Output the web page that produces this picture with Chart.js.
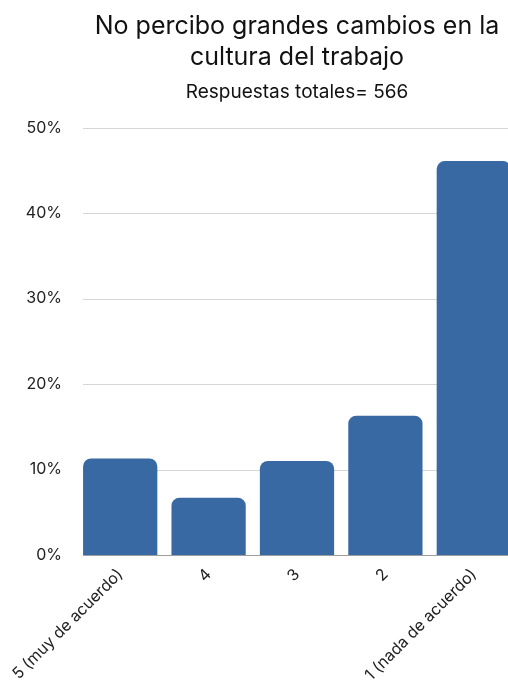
<!DOCTYPE html>
<html>
<head>
<meta charset="utf-8">
<script src="https://cdn.jsdelivr.net/npm/chart.js@4"></script>
<style>
  html, body { margin: 0; padding: 0; background: #fff; overflow: hidden; }
  #wrap { width: 518px; height: 682px; }
</style>
</head>
<body>
<div id="wrap"><canvas id="chart"></canvas></div>
<script>
const categories = ['5 (muy de acuerdo)', '4', '3', '2', '1 (nada de acuerdo)'];
const values = [11.3, 6.7, 11.0, 16.3, 46.1];
const yTicks = [0, 10, 20, 30, 40, 50];

const FONT = 'Inter, "DejaVu Sans", sans-serif';

// gridlines start at the left edge of the first bar, like the original
const gridFromFirstBar = {
    id: 'gridFromFirstBar',
    beforeDatasetsDraw: function(chart) {
        const y = chart.scales.y;
        const bar = chart.getDatasetMeta(0).data[0];
        const x0 = bar.x - bar.width / 2;
        const x1 = chart.chartArea.right;
        const c = chart.ctx;
        c.save();
        yTicks.forEach(function(v) {
            const py = Math.round(y.getPixelForValue(v)) + 0.5;
            c.strokeStyle = v === 0 ? '#9e9e9e' : '#d6d6d6';
            c.lineWidth = 1;
            c.beginPath();
            c.moveTo(x0, py);
            c.lineTo(x1, py);
            c.stroke();
        });
        c.restore();
    }
};

var ctx = document.getElementById('chart');
var chart = new Chart(ctx, {
    type: 'bar',
    data: {
        labels: categories,
        datasets: [{
            label: 'Respuestas',
            data: values,
            backgroundColor: '#3869a3',
            borderRadius: 8,
            barPercentage: 1,
            categoryPercentage: 0.84
        }]
    },
    options: {
        responsive: true,
        maintainAspectRatio: false,
        animation: false,
        layout: { padding: { left: 0, right: 0, top: 11, bottom: 0 } },
        plugins: {
            legend: { display: false },
            tooltip: { enabled: false },
            title: {
                display: true,
                fullSize: false,
                text: ['No percibo grandes cambios en la', 'cultura del trabajo'],
                color: '#111',
                font: { family: FONT, size: 25, weight: 'normal', lineHeight: 1.24 },
                padding: { top: 0, bottom: 8 }
            },
            subtitle: {
                display: true,
                fullSize: false,
                text: 'Respuestas totales= 566',
                color: '#111',
                font: { family: FONT, size: 19, weight: 'normal', lineHeight: 1.2 },
                padding: { top: 0, bottom: 24 }
            }
        },
        scales: {
            x: {
                grid: { display: false },
                border: { display: false },
                afterFit: function(scale) { scale.height = 127; },
                ticks: {
                    color: '#222',
                    font: { family: FONT, size: 16 },
                    minRotation: 45,
                    maxRotation: 45,
                    padding: 2
                }
            },
            y: {
                min: 0,
                max: 50,
                afterFit: function(scale) { scale.width = 76; },
                afterBuildTicks: function(scale) {
                    scale.ticks = yTicks.map(function(v) { return { value: v }; });
                },
                grid: { display: false },
                border: { display: false },
                ticks: {
                    color: '#222',
                    font: { family: FONT, size: 16 },
                    padding: 6,
                    callback: function(v) { return v + '%'; }
                }
            }
        }
    },
    plugins: [gridFromFirstBar]
});
</script>
</body>
</html>
